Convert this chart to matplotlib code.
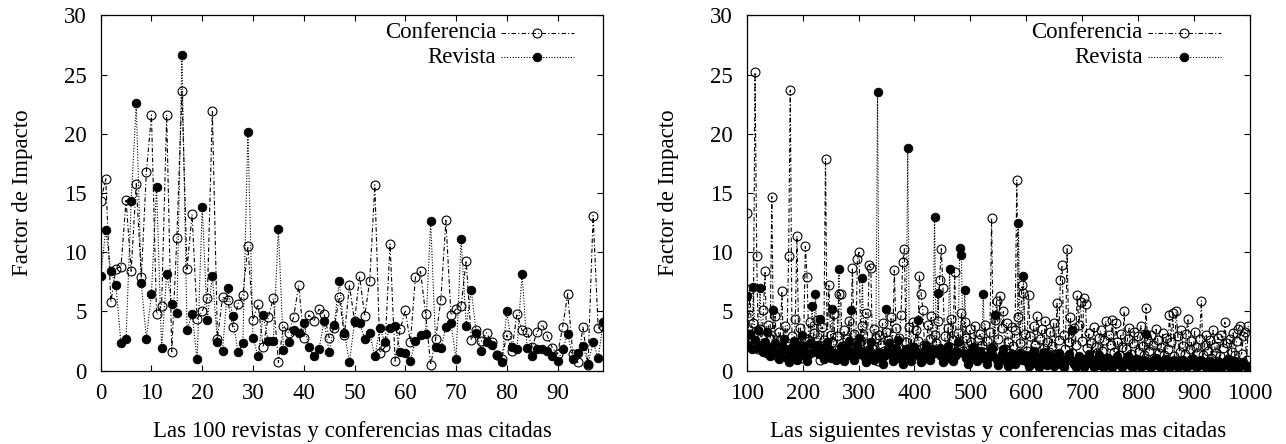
import matplotlib

matplotlib.use("Agg")
import matplotlib.pyplot as plt
from matplotlib.lines import Line2D

plt.rcParams["font.family"] = ["Liberation Serif", "DejaVu Serif"]
FS = 16.5

# left panel: the 100 most cited (rank 0..99)
TOP_RANKS = list(range(0, 100))
TOP_CONF = [
    14.3, 16.2, 5.8, 8.6, 8.8, 14.4, 8.4, 15.8, 7.9, 16.8,
    21.6, 4.8, 5.5, 21.6, 1.6, 11.2, 23.6, 8.6, 13.2, 4.4,
    5.0, 6.1, 21.9, 2.7, 6.2, 6.0, 3.7, 5.6, 6.4, 10.5,
    4.3, 5.6, 2.0, 4.5, 6.1, 0.7, 3.8, 3.2, 4.5, 7.2,
    2.8, 4.7, 4.2, 5.2, 4.8, 2.8, 3.6, 6.2, 3.0, 7.2,
    4.2, 8.0, 4.6, 7.6, 15.7, 1.5, 2.0, 10.7, 0.8, 3.5,
    5.1, 2.4, 7.9, 8.4, 4.8, 0.5, 2.7, 6.0, 12.7, 4.7,
    5.2, 5.5, 9.3, 2.6, 3.4, 2.5, 3.2, 2.4, 1.3, 1.0,
    3.0, 1.7, 4.8, 3.4, 3.3, 2.0, 3.3, 3.9, 2.9, 1.9,
    1.4, 3.7, 6.5, 1.4, 0.7, 3.7, 0.5, 13.1, 3.6, 3.8,
]
TOP_JOUR = [
    8.0, 11.9, 8.4, 7.2, 2.3, 2.7, 14.3, 22.6, 7.4, 2.7,
    6.5, 15.5, 1.9, 8.2, 5.6, 4.9, 26.7, 3.4, 4.8, 0.96,
    13.8, 4.3, 8.0, 2.4, 1.7, 7.0, 4.6, 1.6, 2.3, 20.2,
    2.8, 1.2, 4.7, 2.5, 2.5, 12.0, 1.75, 2.45, 3.4, 3.15,
    4.0, 2.0, 1.2, 1.8, 4.2, 1.55, 3.9, 7.6, 3.2, 0.7,
    4.1, 4.0, 2.7, 3.2, 1.2, 3.6, 2.4, 3.6, 3.8, 1.6,
    1.5, 0.85, 2.5, 3.0, 3.1, 12.65, 2.0, 1.9, 3.7, 4.0,
    1.0, 11.1, 3.8, 6.8, 3.15, 1.7, 2.4, 2.2, 1.3, 0.7,
    5.0, 2.0, 1.8, 8.2, 1.9, 1.2, 1.8, 1.8, 1.7, 1.2,
    0.8, 1.8, 3.1, 1.0, 1.5, 2.1, 0.6, 2.4, 1.1, 4.1,
]

# right panel: the following ones (every third rank, 100..997)
NEXT_RANKS = list(range(100, 1000, 3))
NEXT_CONF = [
    13.3, 3.1, 6.9, 2.4, 4.0, 25.2, 9.7, 1.8, 3.5, 2.2, 5.1, 8.4, 1.5, 3.9, 2.7, 14.7, 2.0, 4.6, 1.2, 3.3,
    2.6, 6.7, 1.4, 3.8, 2.1, 9.7, 23.7, 2.9, 1.7, 4.4, 11.4, 2.3, 3.6, 1.1, 2.8, 10.5, 7.9, 2.5, 4.1, 1.6,
    3.2, 1.9, 4.3, 2.2, 0.9, 3.7, 2.6, 17.9, 1.8, 7.2, 3.0, 2.4, 4.8, 1.3, 2.9, 6.5, 6.5, 2.1, 3.4, 1.5,
    2.7, 4.2, 1.6, 8.7, 3.1, 2.0, 9.4, 10.0, 2.5, 3.8, 1.2, 4.9, 2.3, 8.9, 8.7, 1.9, 3.5, 2.8, 0.8, 3.0,
    2.2, 4.0, 1.7, 3.3, 2.6, 1.4, 4.5, 2.1, 8.5, 3.6, 1.9, 2.8, 4.7, 9.2, 10.3, 2.4, 1.3, 3.7, 2.0, 4.1,
    1.8, 3.4, 2.5, 8.0, 6.5, 5.1, 2.2, 1.1, 3.9, 2.7, 4.6, 1.6, 3.0, 2.3, 4.2, 7.7, 10.3, 7.0, 2.9, 1.5,
    3.6, 2.0, 4.4, 2.6, 8.3, 1.4, 3.2, 2.1, 4.9, 1.7, 4.1, 2.8, 1.0, 3.5, 2.4, 1.9, 3.8, 1.3, 2.6, 3.1,
    2.2, 1.6, 3.9, 2.5, 1.2, 3.3, 12.9, 2.0, 4.3, 5.9, 2.7, 6.3, 3.6, 5.0, 1.8, 4.0, 2.4, 1.5, 3.7, 2.1,
    3.4, 16.1, 4.5, 2.3, 7.2, 6.6, 3.1, 1.7, 6.4, 2.9, 1.4, 3.8, 2.2, 4.6, 1.1, 2.7, 3.5, 1.9, 4.2, 2.4,
    1.6, 3.3, 2.1, 4.0, 1.3, 5.7, 2.6, 7.7, 8.9, 3.0, 1.8, 10.3, 2.4, 4.5, 1.5, 3.6, 2.2, 6.4, 3.9, 5.8,
    2.5, 6.1, 5.6, 1.9, 3.2, 2.3, 1.2, 3.7, 2.0, 1.5, 2.8, 3.4, 1.7, 2.6, 4.2, 1.1, 3.0, 2.2, 4.3, 1.6,
    4.0, 2.4, 1.3, 3.1, 2.0, 5.0, 1.8, 2.7, 3.6, 1.4, 2.3, 3.3, 1.0, 2.9, 1.6, 3.8, 2.1, 1.3, 5.3, 2.5,
    1.7, 3.0, 2.2, 1.1, 3.5, 2.6, 1.5, 2.0, 3.2, 1.3, 2.8, 1.8, 4.7, 2.4, 4.9, 1.2, 5.0, 2.9, 1.6, 3.4,
    2.1, 1.4, 3.1, 4.4, 1.8, 2.5, 1.0, 3.3, 2.0, 1.5, 2.7, 5.9, 1.3, 2.2, 3.0, 1.7, 2.6, 1.1, 3.4, 2.0,
    1.5, 2.8, 1.2, 3.0, 1.9, 4.1, 2.3, 1.0, 2.7, 1.6, 3.2, 1.3, 2.5, 3.5, 3.8, 1.4, 2.9, 3.3, 0.9, 3.8,
]
NEXT_JOUR = [
    6.3, 2.2, 3.1, 1.8, 7.1, 2.6, 1.9, 3.4, 7.0, 2.1, 1.6, 2.4, 3.3, 1.7, 1.2, 2.0, 5.1, 2.3, 1.5, 1.0,
    1.4, 2.1, 2.7, 1.8, 1.1, 0.7, 1.3, 2.0, 2.5, 1.6, 0.9, 1.5, 2.2, 3.0, 1.9, 1.2, 0.8, 1.4, 2.3, 5.5,
    1.7, 6.5, 2.1, 1.4, 4.4, 1.9, 1.0, 1.6, 2.4, 1.8, 1.1, 5.2, 1.5, 0.9, 1.3, 8.6, 2.0, 1.4, 0.8, 1.2,
    1.9, 2.5, 5.1, 1.6, 0.9, 1.3, 2.2, 2.8, 1.7, 7.8, 1.2, 0.7, 1.1, 1.8, 2.4, 1.5, 0.9, 1.4, 23.5, 1.6,
    1.1, 0.6, 1.2, 5.2, 1.7, 2.3, 1.4, 0.8, 1.3, 1.9, 2.6, 1.5, 1.0, 0.6, 1.2, 1.8, 18.8, 1.3, 0.8, 1.4,
    2.0, 1.6, 4.3, 1.2, 0.7, 1.1, 1.7, 2.2, 1.4, 0.9, 1.3, 1.8, 13.0, 1.5, 6.6, 1.9, 1.2, 0.7, 1.0, 1.6,
    2.1, 8.6, 1.4, 0.8, 1.2, 1.7, 2.4, 10.4, 9.8, 1.5, 6.8, 1.1, 0.6, 1.0, 1.6, 2.0, 1.3, 0.8, 1.2, 1.7,
    1.3, 6.5, 1.0, 0.6, 1.1, 1.5, 1.9, 1.2, 4.7, 0.9, 0.5, 1.0, 1.4, 1.8, 1.2, 0.7, 0.4, 0.9, 1.4, 1.1,
    0.6, 1.0, 12.5, 1.5, 0.9, 8.0, 1.3, 0.7, 0.4, 0.9, 1.4, 1.7, 1.1, 0.6, 0.3, 0.8, 1.2, 1.6, 1.0, 0.5,
    0.9, 1.3, 0.8, 0.4, 0.7, 1.2, 1.5, 1.0, 0.5, 0.3, 0.7, 1.1, 1.4, 0.9, 3.4, 0.6, 0.3, 0.8, 1.2, 0.9,
    0.5, 0.3, 0.7, 1.1, 1.4, 1.0, 0.6, 0.3, 0.5, 0.9, 1.3, 0.8, 0.4, 0.3, 0.7, 1.1, 0.9, 0.5, 0.3, 0.6,
    1.0, 1.2, 0.8, 0.4, 0.3, 0.6, 0.9, 1.2, 0.7, 0.4, 0.3, 0.6, 1.0, 0.8, 0.5, 0.3, 0.5, 0.9, 3.1, 0.7,
    0.4, 0.3, 0.6, 0.9, 1.1, 0.7, 0.4, 0.3, 0.5, 0.8, 1.0, 0.6, 0.3, 0.4, 0.7, 0.9, 0.6, 0.3, 0.5, 0.8,
    0.9, 0.6, 0.3, 0.4, 0.7, 1.0, 0.8, 0.5, 0.3, 0.4, 0.6, 0.9, 0.7, 0.4, 0.3, 0.5, 0.8, 0.6, 0.3, 0.4,
    0.6, 0.8, 0.5, 0.3, 0.4, 0.7, 0.9, 0.6, 0.3, 0.4, 0.6, 0.8, 0.5, 0.3, 0.4, 0.6, 0.7, 0.5, 0.3, 0.4,
]

CONF_STYLE = dict(color="black", lw=0.8, ls=(0, (4, 2, 1, 2)), marker="o",
                  ms=6.4, mfc="none", mec="black", mew=0.8)
JOUR_STYLE = dict(color="black", lw=0.8, ls=(0, (1, 1.5)), marker="o",
                  ms=6.2, mfc="black", mec="black", mew=0.6)


def style_axes(ax, xlim, xticks, xlabel):
    ax.set_xlim(*xlim)
    ax.set_ylim(0, 30)
    ax.set_xticks(xticks)
    ax.set_yticks(range(0, 31, 5))
    ax.tick_params(direction="in", length=4.5, width=0.8, top=True, right=True,
                   labelsize=FS)
    ax.tick_params(axis="x", pad=9)
    ax.tick_params(axis="y", pad=10)
    for sp in ax.spines.values():
        sp.set_linewidth(0.9)
    ax.set_xlabel(xlabel, fontsize=FS, labelpad=12)
    ax.set_ylabel("Factor de Impacto", fontsize=FS, va="center")
    ax.yaxis.set_label_coords(-0.155, 0.5)

    # gnuplot-like key: text right aligned, sample to the right
    for row, (label, st) in enumerate([("Conferencia", CONF_STYLE), ("Revista", JOUR_STYLE)]):
        y = 0.951 - row * 0.068
        ax.text(0.787, y, label, transform=ax.transAxes, ha="right", va="center",
                fontsize=FS)
        ax.add_line(Line2D([0.797, 0.942], [y, y], transform=ax.transAxes,
                           color="black", lw=0.8, ls=st["ls"], clip_on=False))
        ax.add_line(Line2D([0.869], [y], transform=ax.transAxes, marker="o",
                           ms=st["ms"], mfc=st["mfc"], mec="black", mew=st["mew"],
                           ls="none", clip_on=False))


fig = plt.figure(figsize=(12.86, 4.44), dpi=100)
ax1 = fig.add_axes([0.0783, 0.1651, 0.3908, 0.800])
ax2 = fig.add_axes([0.5806, 0.1651, 0.3914, 0.800])

ax1.plot(TOP_RANKS, TOP_CONF, **CONF_STYLE)
ax1.plot(TOP_RANKS, TOP_JOUR, **JOUR_STYLE)
style_axes(ax1, (0, 99), range(0, 91, 10), "Las 100 revistas y conferencias mas citadas")

ax2.plot(NEXT_RANKS, NEXT_CONF, **CONF_STYLE)
ax2.plot(NEXT_RANKS, NEXT_JOUR, **JOUR_STYLE)
style_axes(ax2, (100, 1000), range(100, 1001, 100),
           "Las siguientes revistas y conferencias mas citadas")

fig.savefig("out.png", dpi=100)
